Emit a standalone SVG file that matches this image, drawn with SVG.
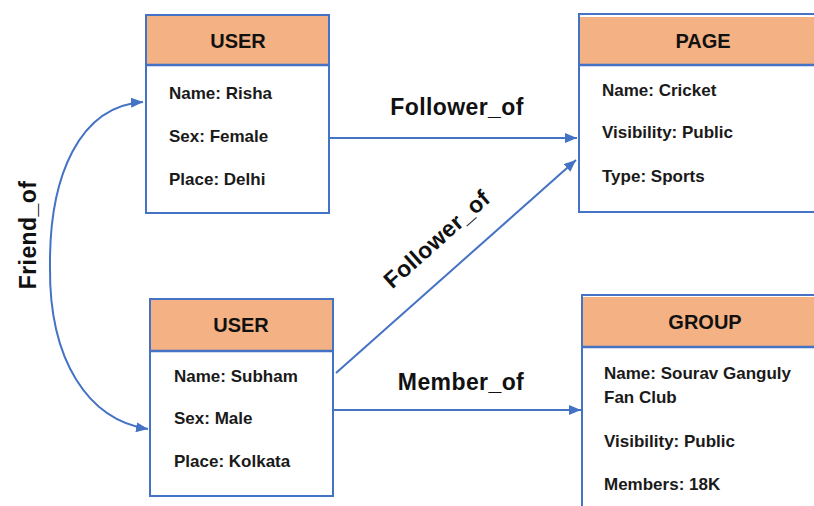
<svg xmlns="http://www.w3.org/2000/svg" width="814" height="506" viewBox="0 0 814 506">
  <defs>
    <marker id="arrow" markerUnits="userSpaceOnUse" markerWidth="12" markerHeight="10" refX="12" refY="5" orient="auto">
      <path d="M0,0 L12,5 L0,10 z" fill="#4472C4"/>
    </marker>
    <style>
      .box { fill: #ffffff; stroke: #4472C4; stroke-width: 2; }
      .head { fill: #F4B183; stroke: none; }
      .sep { stroke: #4472C4; stroke-width: 2.5; }
      .title { font-family: "Liberation Sans", Arial, sans-serif; font-weight: bold; font-size: 20px; fill: #111111; text-anchor: middle; }
      .attr { font-family: "Liberation Sans", Arial, sans-serif; font-weight: bold; font-size: 17px; fill: #1a1a1a; }
      .label { font-family: "Liberation Sans", Arial, sans-serif; font-weight: bold; font-size: 23px; letter-spacing: 0.4px; fill: #111111; text-anchor: middle; }
      .edge { fill: none; stroke: #4472C4; stroke-width: 2; marker-end: url(#arrow); }
    </style>
  </defs>

  <rect width="814" height="506" fill="#ffffff"/>

  <!-- connectors -->
  <g id="connectors">
    <path class="edge" d="M329,138 L577,138"/>
    <path class="edge" d="M336,373 L576,160"/>
    <path class="edge" d="M333,410 L581,410"/>
    <path class="edge" d="M50,267 C49,175 80,106 143,102" />
    <path class="edge" d="M50,267 C49,360 88,420 148,429" />
    <text class="label" x="457" y="115">Follower_of</text>
    <text class="label" transform="translate(442,245) rotate(-41.7)">Follower_of</text>
    <text class="label" x="461" y="390">Member_of</text>
    <text class="label" transform="translate(36,235) rotate(-90)">Friend_of</text>
  </g>

  <!-- user: Risha -->
  <g id="user-risha">
    <rect class="box" x="146" y="15" width="183" height="198"/>
    <rect class="head" x="147" y="16" width="181" height="48"/>
    <line class="sep" x1="146" y1="65" x2="329" y2="65"/>
    <text class="title" x="238" y="48">USER</text>
    <text class="attr" x="169" y="99">Name: Risha</text>
    <text class="attr" x="169" y="142">Sex: Female</text>
    <text class="attr" x="169" y="185">Place: Delhi</text>
  </g>

  <!-- page: Cricket -->
  <g id="page-cricket">
    <rect class="box" x="579" y="14" width="260" height="198"/>
    <rect class="head" x="580" y="17" width="260" height="47"/>
    <line class="sep" x1="579" y1="65" x2="840" y2="65"/>
    <text class="title" x="703" y="48">PAGE</text>
    <text class="attr" x="602" y="96">Name: Cricket</text>
    <text class="attr" x="602" y="138">Visibility: Public</text>
    <text class="attr" x="602" y="182">Type: Sports</text>
  </g>

  <!-- user: Subham -->
  <g id="user-subham">
    <rect class="box" x="150" y="299" width="183" height="197"/>
    <rect class="head" x="151" y="300" width="181" height="50"/>
    <line class="sep" x1="150" y1="351" x2="333" y2="351"/>
    <text class="title" x="241" y="332">USER</text>
    <text class="attr" x="174" y="382">Name: Subham</text>
    <text class="attr" x="174" y="424">Sex: Male</text>
    <text class="attr" x="174" y="467">Place: Kolkata</text>
  </g>

  <!-- group: fan club -->
  <g id="group-fanclub">
    <rect class="box" x="582" y="295" width="260" height="230"/>
    <rect class="head" x="583" y="297" width="260" height="49"/>
    <line class="sep" x1="582" y1="347" x2="842" y2="347"/>
    <text class="title" x="705" y="329">GROUP</text>
    <text class="attr" x="604" y="379">Name: Sourav Ganguly</text>
    <text class="attr" x="604" y="403">Fan Club</text>
    <text class="attr" x="604" y="447">Visibility: Public</text>
    <text class="attr" x="604" y="490">Members: 18K</text>
  </g>
</svg>
